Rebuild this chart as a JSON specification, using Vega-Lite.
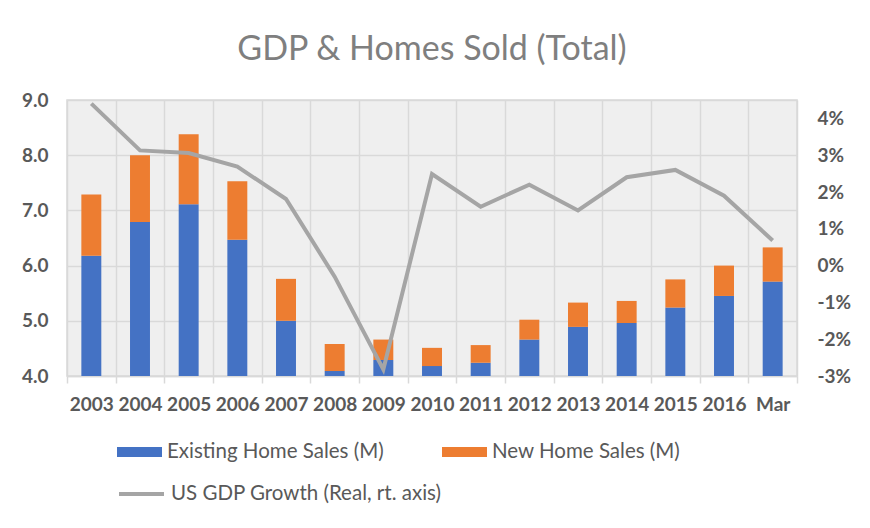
{
  "$schema": "https://vega.github.io/schema/vega-lite/v6.json",
  "width": 730,
  "height": 276,
  "autosize": {"type": "none"},
  "padding": {"left": 67, "top": 100, "right": 73, "bottom": 152},
  "background": "white",
  "title": {"text": "GDP & Homes Sold (Total)", "fontSize": 34, "font": "Lato", "fontWeight": "normal", "color": "#7f7f7f", "anchor": "middle", "offset": 24},
  "data": {"values": [
    {"year": "2003", "existing": 6.18, "new": 1.11, "gdp": 4.4},
    {"year": "2004", "existing": 6.79, "new": 1.21, "gdp": 3.13},
    {"year": "2005", "existing": 7.11, "new": 1.27, "gdp": 3.06},
    {"year": "2006", "existing": 6.47, "new": 1.06, "gdp": 2.69},
    {"year": "2007", "existing": 5.0, "new": 0.76, "gdp": 1.81},
    {"year": "2008", "existing": 4.09, "new": 0.49, "gdp": -0.3},
    {"year": "2009", "existing": 4.29, "new": 0.37, "gdp": -2.82},
    {"year": "2010", "existing": 4.18, "new": 0.33, "gdp": 2.49},
    {"year": "2011", "existing": 4.24, "new": 0.32, "gdp": 1.6},
    {"year": "2012", "existing": 4.66, "new": 0.36, "gdp": 2.2},
    {"year": "2013", "existing": 4.89, "new": 0.44, "gdp": 1.5},
    {"year": "2014", "existing": 4.96, "new": 0.4, "gdp": 2.4},
    {"year": "2015", "existing": 5.24, "new": 0.51, "gdp": 2.6},
    {"year": "2016", "existing": 5.45, "new": 0.55, "gdp": 1.9},
    {"year": "Mar", "existing": 5.71, "new": 0.62, "gdp": 0.68}
  ]},
  "layer": [
    {
      "transform": [{"fold": ["existing", "new"], "as": ["series", "value"]}],
      "mark": {"type": "bar", "width": {"band": 0.41}, "clip": true},
      "encoding": {
        "x": {
          "field": "year", "type": "nominal", "sort": null,
          "scale": {"paddingInner": 0, "paddingOuter": 0},
          "axis": {
            "title": null, "labelAngle": 0, "labelFont": "Lato", "labelFontSize": 19, "labelFontWeight": "bold",
            "labelColor": "#595959", "tickBand": "extent", "tickSize": 7, "tickColor": "#d9d9d9", "tickWidth": 1.5,
            "domainColor": "#d9d9d9", "domainWidth": 1.5, "grid": true, "gridColor": "#d9d9d9", "gridWidth": 1.5,
            "labelPadding": 12
          }
        },
        "y": {
          "field": "value", "type": "quantitative", "stack": "zero",
          "scale": {"domain": [4, 9], "zero": false, "nice": false},
          "axis": {
            "title": null, "values": [4, 5, 6, 7, 8, 9], "format": ".1f", "labelFont": "Lato", "labelFontSize": 19,
            "labelFontWeight": "bold", "labelColor": "#595959", "domain": false, "ticks": false, "labelPadding": 19,
            "grid": true, "gridColor": "#d9d9d9", "gridWidth": 1.5
          }
        },
        "order": {"field": "series", "sort": "ascending"},
        "color": {
          "field": "series", "type": "nominal",
          "scale": {"domain": ["existing", "new"], "range": ["#4472c4", "#ed7d31"]},
          "legend": {
            "orient": "none", "legendX": 50, "legendY": 329.5, "columns": 2, "columnPadding": 58,
            "symbolType": "M-1,-0.222L1,-0.222L1,0.222L-1,0.222Z", "symbolSize": 2025, "symbolStrokeWidth": 0,
            "labelFont": "Lato", "labelFontSize": 20.5, "labelColor": "#595959", "labelOffset": 5, "title": null,
            "padding": 0, "labelLimit": 400,
            "labelExpr": "datum.label == 'existing' ? 'Existing Home Sales (M)' : 'New Home Sales  (M)'"
          }
        }
      }
    },
    {
      "mark": {"type": "line", "strokeWidth": 4},
      "encoding": {
        "x": {"field": "year", "type": "nominal", "sort": null},
        "y": {
          "field": "gdp", "type": "quantitative",
          "scale": {"domain": [-3, 4.5], "zero": false, "nice": false},
          "axis": {
            "orient": "right", "title": null, "values": [-3, -2, -1, 0, 1, 2, 3, 4], "labelExpr": "datum.value + '%'",
            "labelFont": "Lato", "labelFontSize": 19, "labelFontWeight": "bold", "labelColor": "#595959",
            "domain": false, "ticks": false, "labelPadding": 20, "grid": false
          }
        },
        "stroke": {
          "datum": "US GDP Growth (Real, rt. axis)",
          "scale": {"range": ["#a5a5a5"]},
          "legend": {
            "orient": "none", "legendX": 50, "legendY": 369.5, "symbolType": "M-1,0L1,0", "symbolSize": 2025,
            "symbolStrokeWidth": 4, "labelFont": "Lato", "labelFontSize": 20.5, "labelColor": "#595959",
            "labelOffset": 5, "title": null, "padding": 0, "labelLimit": 400
          }
        }
      }
    }
  ],
  "resolve": {"scale": {"y": "independent"}},
  "config": {
    "view": {"stroke": "#d9d9d9", "strokeWidth": 1.5, "fill": "#efefef"}
  }
}
